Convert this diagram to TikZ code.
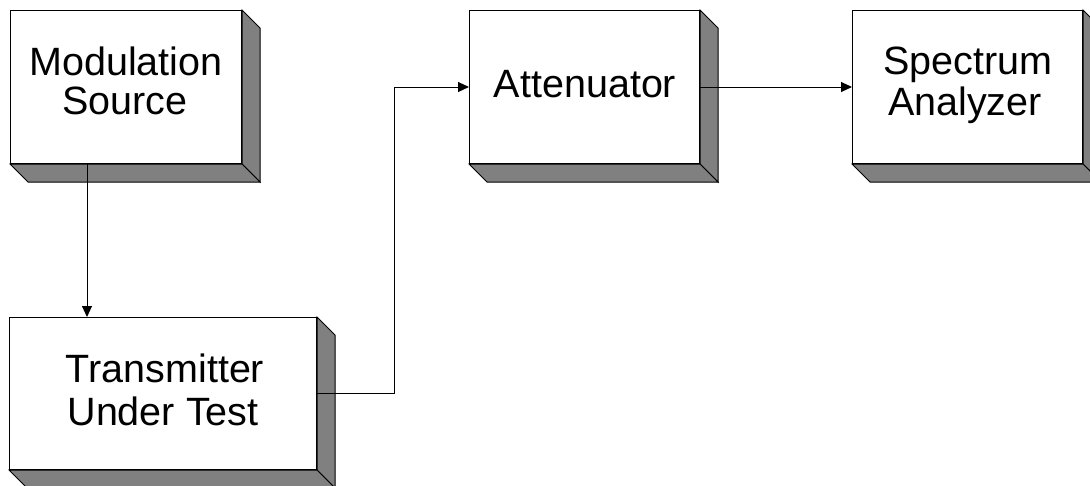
\documentclass[tikz,border=0pt]{standalone}
\usepackage{fontspec}
\setmainfont{Liberation Sans}
\usetikzlibrary{arrows.meta}
\definecolor{sidegray}{RGB}{128,128,128}
\tikzset{
  block/.style={rectangle, draw=black, line width=1pt, fill=white, inner sep=0pt, anchor=north west},
  side/.style={draw=black, line width=1pt, fill=sidegray, line join=miter},
  txt/.style={anchor=base, inner sep=0pt, font=\fontsize{39.5}{42}\selectfont},
  arr/.style={draw=black, line width=1pt, -{Triangle[length=11pt,width=10pt]}},
  conn/.style={draw=black, line width=1pt}
}
\newcommand{\boxsides}[1]{%
  \path[side] (#1.north east) -- ++(18,18) -- ([shift={(18,18)}]#1.south east) -- (#1.south east) -- cycle;
  \path[side] (#1.south west) -- (#1.south east) -- ++(18,18) -- ([shift={(18,18)}]#1.south west) -- cycle;
}
\begin{document}
\begin{tikzpicture}[x=1pt,y=-1pt]
\useasboundingbox (0,0) rectangle (1090,485);
% boxes
\node[block, minimum width=231pt, minimum height=153pt] (ms) at (10,10) {};
\node[block, minimum width=307pt, minimum height=152pt] (tx) at (9,317) {};
\node[block, minimum width=230pt, minimum height=153pt] (att) at (469,10) {};
\node[block, minimum width=230pt, minimum height=153pt] (sa) at (852,10) {};
\boxsides{ms}
\boxsides{tx}
\boxsides{att}
\boxsides{sa}
% texts
\node[txt] (ms1) at (126,75) {Modulation};
\node[txt] (ms2) at (125,114) {Source};
\node[txt] (tx1) at (165,382) {Transmitter};
\node[txt] (tx2) at (163,425) {Under Test};
\node[txt] (att1) at (585,97) {Attenuator};
\node[txt] (sa1) at (968,74) {Spectrum};
\node[txt] (sa2) at (965,115) {Analyzer};
% connectors
\coordinate (bend) at ([xshift=77pt]tx.east);
\draw[arr] ([xshift=77pt]ms.south west) -- ([xshift=77pt]ms.south west |- tx.north);
\draw[arr] (tx.east) -- (bend) |- (att.west);
\draw[arr] (att.east) -- (sa.west);
\end{tikzpicture}
\end{document}
